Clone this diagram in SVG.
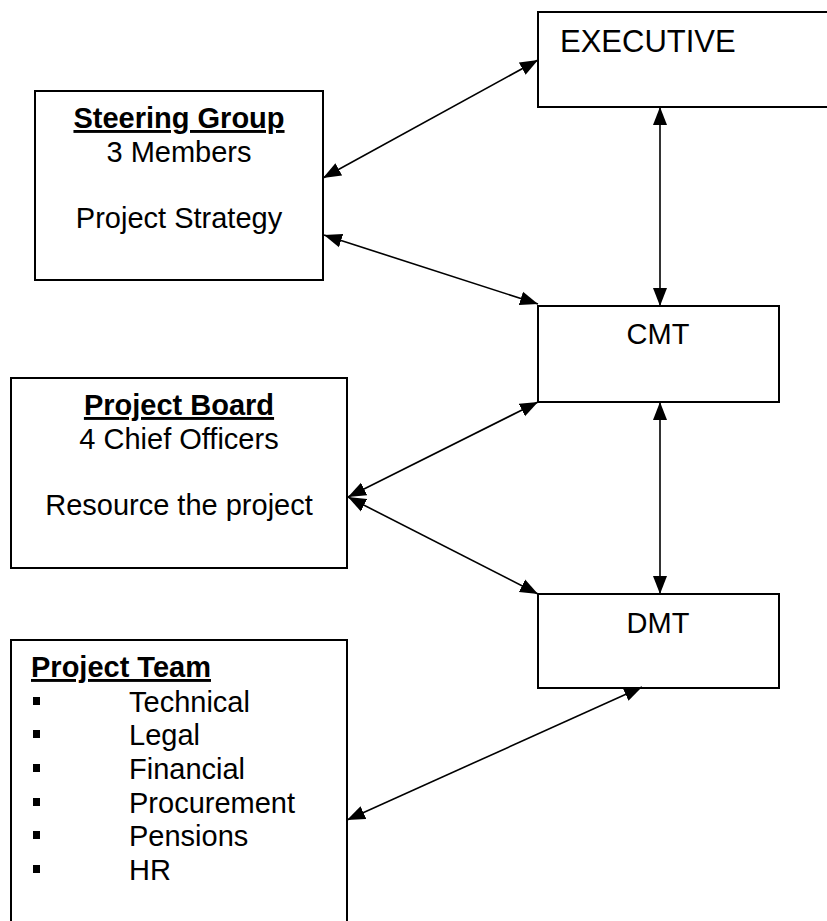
<svg xmlns="http://www.w3.org/2000/svg" width="827" height="921" viewBox="0 0 827 921">
<style>
.box{fill:#fff;stroke:#000;stroke-width:2}
.t{font-family:"Liberation Sans",Arial,sans-serif;font-size:29px;fill:#000}
.b{font-weight:bold;text-decoration:underline}
.m{text-anchor:middle}
.c{stroke:#000;stroke-width:1.6;fill:none;marker-start:url(#ah);marker-end:url(#ah)}
</style>
<defs>
<marker id="ah" markerUnits="userSpaceOnUse" markerWidth="19" markerHeight="16" viewBox="0 0 19 16" refX="18" refY="8" orient="auto-start-reverse">
<path d="M0,1 L18,8 L0,15 Z" fill="#000"/>
</marker>
</defs>
<rect width="827" height="921" fill="#fff"/>
<g id="executive">
<rect class="box" x="538" y="12" width="292" height="95"/>
<text class="t" x="560" y="52" style="font-size:31px">EXECUTIVE</text>
</g>
<g id="steering-group">
<rect class="box" x="35" y="91" width="288" height="189"/>
<text class="t b m" x="179" y="128">Steering Group</text>
<text class="t m" x="179" y="162">3 Members</text>
<text class="t m" x="179" y="228">Project Strategy</text>
</g>
<g id="cmt">
<rect class="box" x="538" y="306" width="241" height="96"/>
<text class="t m" x="658" y="344">CMT</text>
</g>
<g id="project-board">
<rect class="box" x="11" y="378" width="336" height="190"/>
<text class="t b m" x="179" y="415">Project Board</text>
<text class="t m" x="179" y="449">4 Chief Officers</text>
<text class="t m" x="179" y="515">Resource the project</text>
</g>
<g id="dmt">
<rect class="box" x="538" y="594" width="241" height="94"/>
<text class="t m" x="658" y="633">DMT</text>
</g>
<g id="project-team">
<rect class="box" x="11" y="640" width="336" height="290"/>
<text class="t b" x="31" y="677">Project Team</text>
<g fill="#000">
<rect x="33" y="697" width="7" height="8"/>
<rect x="33" y="730" width="7" height="8"/>
<rect x="33" y="764" width="7" height="8"/>
<rect x="33" y="798" width="7" height="8"/>
<rect x="33" y="831" width="7" height="8"/>
<rect x="33" y="865" width="7" height="8"/>
</g>
<text class="t" x="129" y="712">Technical</text>
<text class="t" x="129" y="745">Legal</text>
<text class="t" x="129" y="779">Financial</text>
<text class="t" x="129" y="813">Procurement</text>
<text class="t" x="129" y="846">Pensions</text>
<text class="t" x="129" y="880">HR</text>
</g>
<g id="connectors">
<line class="c" x1="323" y1="178" x2="538" y2="60"/>
<line class="c" x1="324" y1="235" x2="538" y2="304"/>
<line class="c" x1="660" y1="107" x2="660" y2="306"/>
<line class="c" x1="538" y1="402" x2="348" y2="497"/>
<line class="c" x1="348" y1="497" x2="538" y2="594"/>
<line class="c" x1="660" y1="402" x2="660" y2="594"/>
<line class="c" x1="642" y1="687" x2="347" y2="820"/>
</g>
</svg>
